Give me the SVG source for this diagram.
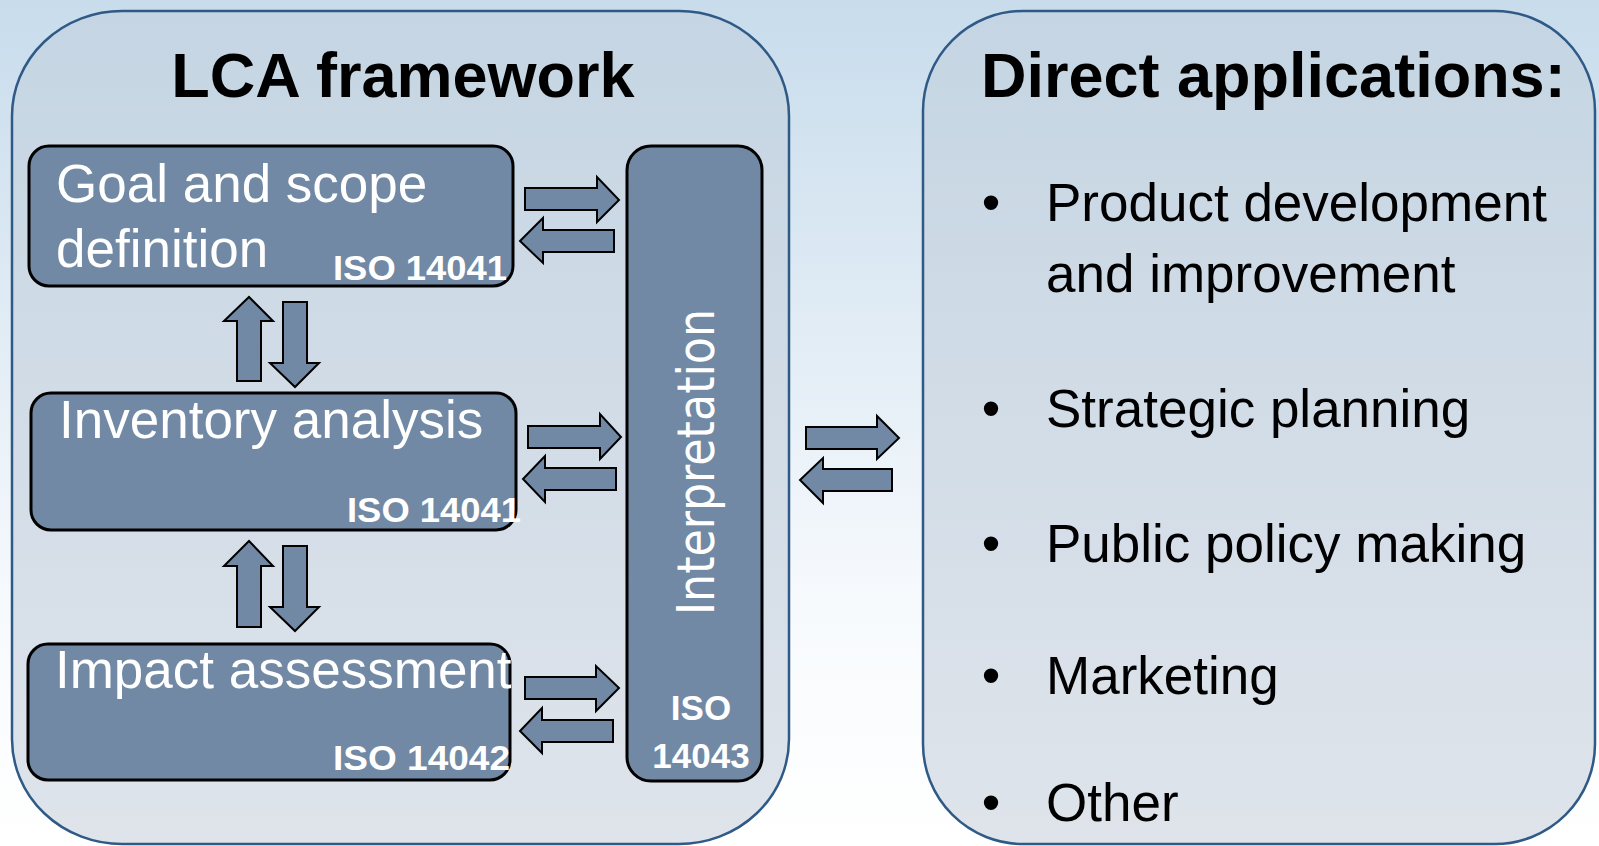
<svg xmlns="http://www.w3.org/2000/svg" width="1599" height="846" viewBox="0 0 1599 846">
  <defs>
    <linearGradient id="bg" x1="0" y1="0" x2="0" y2="1">
      <stop offset="0" stop-color="#c8dcec"/>
      <stop offset="0.72" stop-color="#f7fafd"/>
      <stop offset="1" stop-color="#ffffff"/>
    </linearGradient>
    <linearGradient id="panel" x1="0" y1="0" x2="0" y2="1">
      <stop offset="0" stop-color="#c5d5e3"/>
      <stop offset="1" stop-color="#dfe4eb"/>
    </linearGradient>
    <style>
      .panel { fill: url(#panel); stroke: #2f5a86; stroke-width: 2.5; }
      .box { fill: #7189a4; stroke: #000; stroke-width: 3; }
      .arrow { fill: #7189a4; stroke: #000; stroke-width: 2; stroke-linejoin: miter; }
      .title { font-family: "Liberation Sans", Arial, sans-serif; font-weight: bold; font-size: 63px; fill: #000; }
      .lbl { font-family: "Liberation Sans", Arial, sans-serif; font-size: 53px; fill: #fff; }
      .iso { font-family: "Liberation Sans", Arial, sans-serif; font-weight: bold; font-size: 35px; fill: #fff; }
      .item { font-family: "Liberation Sans", Arial, sans-serif; font-size: 53px; fill: #000; }
    </style>
  </defs>

  <rect x="0" y="0" width="1599" height="846" fill="url(#bg)"/>

  <g id="lca-panel">
    <rect class="panel" x="12" y="11" width="777" height="833" rx="110" ry="105"/>
    <text class="title" x="403" y="97" text-anchor="middle">LCA framework</text>
  </g>

  <g id="applications-panel">
    <rect class="panel" x="923" y="11" width="672" height="833" rx="100" ry="100"/>
    <text class="title" x="981" y="97">Direct applications:</text>
    <text class="item" x="991" y="221" text-anchor="middle">•</text>
    <text class="item" x="1046" y="221">Product development</text>
    <text class="item" x="1046" y="292">and improvement</text>
    <text class="item" x="991" y="427" text-anchor="middle">•</text>
    <text class="item" x="1046" y="427">Strategic planning</text>
    <text class="item" x="991" y="562" text-anchor="middle">•</text>
    <text class="item" x="1046" y="562">Public policy making</text>
    <text class="item" x="991" y="694" text-anchor="middle">•</text>
    <text class="item" x="1046" y="694">Marketing</text>
    <text class="item" x="991" y="821" text-anchor="middle">•</text>
    <text class="item" x="1046" y="821">Other</text>
  </g>

  <g id="goal">
    <rect class="box" x="29" y="146" width="484" height="140" rx="20" ry="20"/>
    <text class="lbl" x="56" y="202" font-size="52">Goal and scope</text>
    <text class="lbl" x="56" y="267" font-size="52">definition</text>
    <text class="iso" x="333" y="280" textLength="174" lengthAdjust="spacingAndGlyphs">ISO 14041</text>
  </g>

  <g id="inventory">
    <rect class="box" x="31" y="393" width="485" height="137" rx="20" ry="20"/>
    <text class="lbl" x="59" y="438">Inventory analysis</text>
    <text class="iso" x="347" y="522" textLength="174" lengthAdjust="spacingAndGlyphs">ISO 14041</text>
  </g>

  <g id="impact">
    <rect class="box" x="28" y="644" width="482" height="136" rx="20" ry="20"/>
    <text class="lbl" x="55" y="688">Impact assessment</text>
    <text class="iso" x="333" y="770" textLength="177" lengthAdjust="spacingAndGlyphs">ISO 14042</text>
  </g>

  <g id="interpretation">
    <rect class="box" x="627" y="146" width="135" height="635" rx="24" ry="24"/>
    <text transform="translate(714,615) rotate(-90)" x="0" y="0" font-family="'DejaVu Sans', Verdana, sans-serif" font-size="52" fill="#fff" textLength="306" lengthAdjust="spacingAndGlyphs">Interpretation</text>
    <text class="iso" x="701" y="720" text-anchor="middle">ISO</text>
    <text class="iso" x="701" y="768" text-anchor="middle">14043</text>
  </g>

  <g id="connectors">
    <path class="arrow" d="M525,188 H597 V177 L619,200 L597,222 V210 H525 Z"/>
    <path class="arrow" d="M614,230 H543 V218 L520,241 L543,263 V252 H614 Z"/>
    <path class="arrow" d="M528,426 H600 V414 L621,437 L600,459 V448 H528 Z"/>
    <path class="arrow" d="M616,468 H545 V456 L523,479 L545,502 V490 H616 Z"/>
    <path class="arrow" d="M525,677 H596 V666 L619,688 L596,711 V699 H525 Z"/>
    <path class="arrow" d="M613,720 H542 V708 L520,731 L542,753 V742 H613 Z"/>
    <path class="arrow" d="M237,381 V321 H224 L249,297 L273,321 H261 V381 Z"/>
    <path class="arrow" d="M283,302 V363 H270 L295,387 L319,363 H307 V302 Z"/>
    <path class="arrow" d="M237,627 V566 H224 L249,541 L273,566 H261 V627 Z"/>
    <path class="arrow" d="M283,546 V607 H270 L295,631 L319,607 H307 V546 Z"/>
    <path class="arrow" d="M806,427 H877 V416 L899,438 L877,459 V449 H806 Z"/>
    <path class="arrow" d="M892,469 H823 V458 L800,480 L823,503 V491 H892 Z"/>
  </g>
</svg>
